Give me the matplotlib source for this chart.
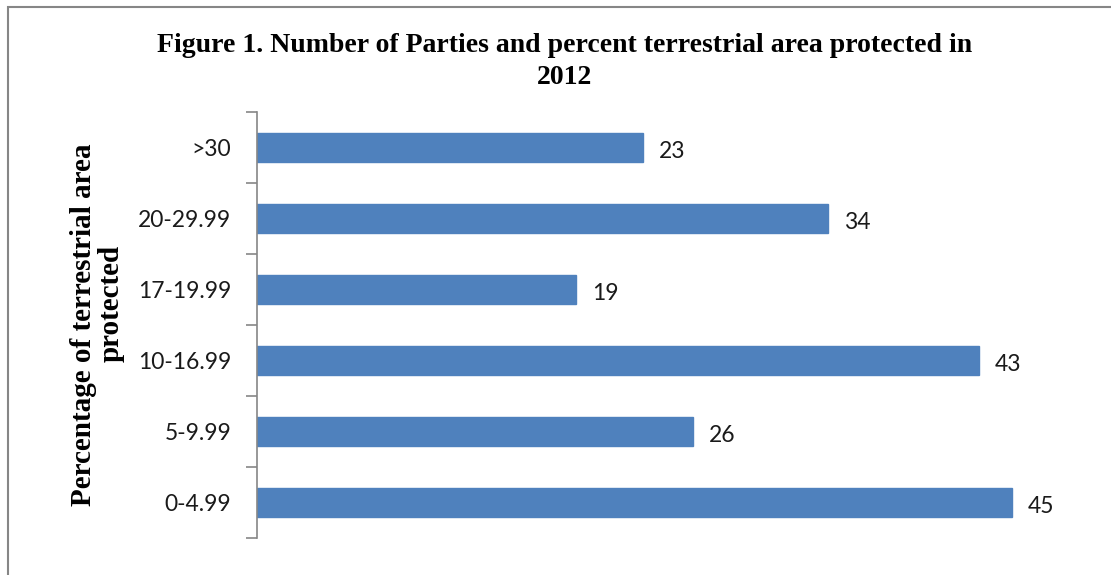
import matplotlib
matplotlib.use("Agg")
import matplotlib.pyplot as plt
from matplotlib.patches import Rectangle

categories = ["0-4.99", "5-9.99", "10-16.99", "17-19.99", "20-29.99", ">30"]
values = [45, 26, 43, 19, 34, 23]
title_lines = ["Figure 1. Number of Parties and percent terrestrial area protected in", "2012"]
ylabel_lines = ["Percentage of terrestrial area", "protected"]

W, H = 1111, 575
fig = plt.figure(figsize=(W / 100, H / 100), dpi=100)
fig.patch.set_facecolor("white")

# outer frame (left and top visible)
fig.patches.append(Rectangle((8 / W, -0.1), 1.2, (H - 7) / H + 0.1,
                             transform=fig.transFigure, fill=False,
                             edgecolor="#868686", linewidth=1.5))

ax = fig.add_axes([257 / W, 1 - 538 / H, (1096 - 257) / W, (538 - 112) / H])
y = list(range(len(categories)))
ax.barh(y, values, height=0.41, color="#4F81BD", edgecolor="#4F81BD")
ax.set_xlim(0, 50)
ax.set_ylim(-0.5, len(categories) - 0.5)

for s in ["top", "right", "bottom"]:
    ax.spines[s].set_visible(False)
ax.spines["left"].set_color("#868686")
ax.spines["left"].set_linewidth(1.2)
ax.set_xticks([])

ax.set_yticks(y)
ax.set_yticklabels(categories, fontfamily="Lato", fontsize=16.5, color="#1a1a1a")
for lbl in ax.get_yticklabels():
    lbl.set_verticalalignment("center_baseline")
ax.tick_params(axis="y", which="major", length=0, pad=18.5)
ax.set_yticks([i - 0.5 for i in range(len(categories) + 1)], minor=True)
ax.tick_params(axis="y", which="minor", length=8, color="#868686", width=1.2)

for yi, v in zip(y, values):
    ax.annotate(str(v), (v, yi), xytext=(16, -2), textcoords="offset pixels",
                va="center_baseline", ha="left", fontfamily="Lato", fontsize=16.5,
                color="#1a1a1a")

fig.text(565 / W, 1 - 45 / H, title_lines[0], ha="center", va="center",
         fontfamily="Liberation Serif", fontweight="bold", fontsize=20)
fig.text(565 / W, 1 - 77 / H, title_lines[1], ha="center", va="center",
         fontfamily="Liberation Serif", fontweight="bold", fontsize=20)

fig.text(84 / W, 1 - 325 / H, ylabel_lines[0], rotation=90, ha="center",
         va="center", fontfamily="Liberation Serif", fontweight="bold",
         fontsize=21)
fig.text(111 / W, 1 - 303 / H, ylabel_lines[1], rotation=90, ha="center",
         va="center", fontfamily="Liberation Serif", fontweight="bold",
         fontsize=21)

fig.savefig("out.png", dpi=100, facecolor="white")
